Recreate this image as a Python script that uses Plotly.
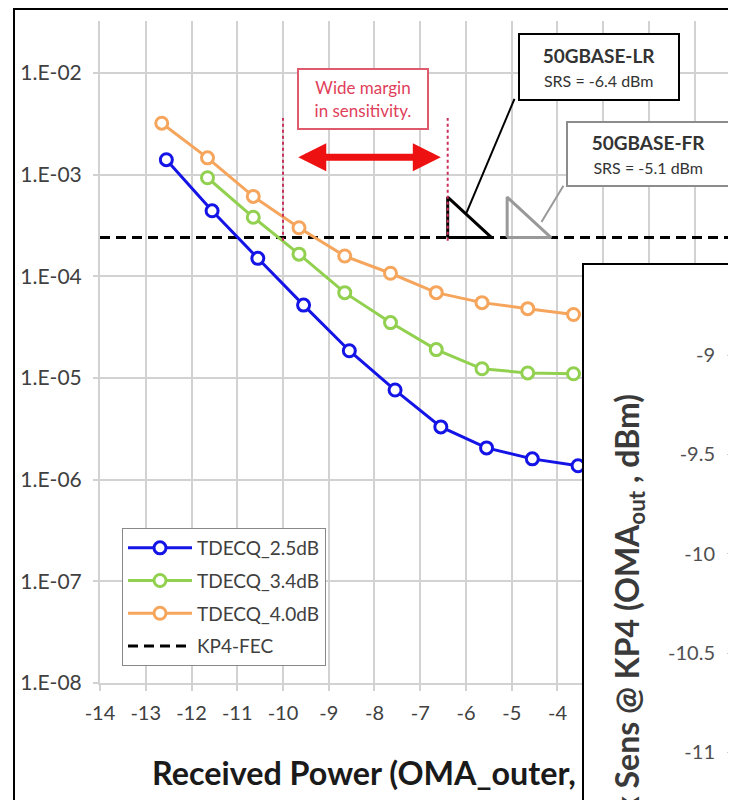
import plotly.graph_objects as go

# ---------------- data ----------------
x_tdecq_25 = [-12.55, -11.55, -10.55, -9.55, -8.55, -7.55, -6.55, -5.55, -4.55, -3.55]
ber_tdecq_25 = [1.4e-3, 4.4e-4, 1.5e-4, 5.2e-5, 1.85e-5, 7.6e-6, 3.3e-6, 2.05e-6, 1.6e-6, 1.37e-6]

x_tdecq_34 = [-11.65, -10.65, -9.65, -8.65, -7.65, -6.65, -5.65, -4.65, -3.65]
ber_tdecq_34 = [9.3e-4, 3.8e-4, 1.65e-4, 6.9e-5, 3.5e-5, 1.9e-5, 1.23e-5, 1.12e-5, 1.1e-5]

x_tdecq_40 = [-12.65, -11.65, -10.65, -9.65, -8.65, -7.65, -6.65, -5.65, -4.65, -3.65]
ber_tdecq_40 = [3.2e-3, 1.46e-3, 6.1e-4, 3.0e-4, 1.58e-4, 1.07e-4, 6.9e-5, 5.5e-5, 4.8e-5, 4.2e-5]

kp4_fec_ber = 2.4e-4
kp4_x_span = [-14, 0.1]

srs_lr = -6.4
srs_fr = -5.1
margin_left = -10.0

x_tickvals = list(range(-14, 1))
x_ticktext = [str(v) for v in x_tickvals]
y_tickvals = [1e-8, 1e-7, 1e-6, 1e-5, 1e-4, 1e-3, 1e-2]
y_ticktext = ["1.E-08", "1.E-07", "1.E-06", "1.E-05", "1.E-04", "1.E-03", "1.E-02"]

y2_tickvals = [-11, -10.5, -10, -9.5, -9]
y2_ticktext = ["-11", "-10.5", "-10", "-9.5", "-9"]

series_names = ["TDECQ_2.5dB", "TDECQ_3.4dB", "TDECQ_4.0dB", "KP4-FEC"]

# ---------------- styling ----------------
W, H = 736, 800
OFF = 8  # page offset of the figure (body margin)


def fx(px):
    return (px - OFF) / W


def fy(py):
    return 1 - (py - OFF) / H


FONT = "Lato"
C_BLUE = "#1414e6"
C_GREEN = "#92d050"
C_ORANGE = "#f5a55c"
GRID = "#d2d2d2"
TRI_W = 0.96          # triangle width (dB)
TRI_H = 2.5           # triangle height factor (BER)
DOT_TOP = 3.6e-3      # top of red dotted markers

fig = go.Figure()


def series(x, y, name, color, rank):
    fig.add_trace(go.Scatter(
        x=x, y=y, name=name, mode="lines+markers", legendgroup=name, legendrank=rank,
        line=dict(color=color, width=3),
        marker=dict(symbol="circle", size=12, color="white",
                    line=dict(color=color, width=3)),
        xaxis="x", yaxis="y"))


fig.add_trace(go.Scatter(
    x=kp4_x_span, y=[kp4_fec_ber, kp4_fec_ber], name=series_names[3],
    mode="lines", legendgroup=series_names[3], legendrank=4,
    line=dict(color="black", width=3, dash="10px,6px")))

series(x_tdecq_25, ber_tdecq_25, series_names[0], C_BLUE, 1)
series(x_tdecq_34, ber_tdecq_34, series_names[1], C_GREEN, 2)
series(x_tdecq_40, ber_tdecq_40, series_names[2], C_ORANGE, 3)

# SRS triangles
for srs, col in [(srs_lr, "black"), (srs_fr, "#999999")]:
    fig.add_trace(go.Scatter(
        x=[srs, srs, srs + TRI_W, srs],
        y=[kp4_fec_ber, kp4_fec_ber * TRI_H, kp4_fec_ber, kp4_fec_ber],
        mode="lines", line=dict(color=col, width=3),
        showlegend=False, hoverinfo="skip"))

# red dotted reference lines
for xv in [margin_left, srs_lr]:
    fig.add_trace(go.Scatter(
        x=[xv, xv], y=[kp4_fec_ber * 0.93, DOT_TOP], mode="lines",
        line=dict(color="#c8305a", width=2, dash="dot"),
        showlegend=False, hoverinfo="skip"))

# callout leader lines
fig.add_trace(go.Scatter(x=[-4.94, -5.99], y=[10 ** -2.256, 10 ** -3.377],
                         mode="lines", line=dict(color="black", width=2),
                         showlegend=False, hoverinfo="skip"))
fig.add_trace(go.Scatter(x=[-3.87, -4.35], y=[10 ** -3.111, 10 ** -3.466],
                         mode="lines", line=dict(color="#999999", width=2),
                         showlegend=False, hoverinfo="skip"))

# overlapping second chart (only its y axis is visible in the crop)
fig.add_trace(go.Scatter(x=[None], y=[None], xaxis="x2", yaxis="y2", showlegend=False))

fig.update_layout(
    width=W, height=H, autosize=False,
    margin=dict(l=0, r=0, t=0, b=0, pad=0, autoexpand=False),
    paper_bgcolor="white", plot_bgcolor="white",
    font=dict(family=FONT, color="#333333"),
    showlegend=True,
    legend=dict(x=fx(122), y=fy(528), xanchor="left", yanchor="top",
                bgcolor="white", bordercolor="#888888", borderwidth=1,
                font=dict(size=19, color="#404040", family=FONT),
                tracegroupgap=5, traceorder="grouped", itemwidth=64),
    xaxis=dict(domain=[fx(100), 1], range=[-14, 0.077], anchor="y", automargin=False,
               tickmode="array", tickvals=x_tickvals, ticktext=x_ticktext,
               showgrid=True, gridcolor=GRID, gridwidth=2,
               showline=True, linecolor=GRID, linewidth=2,
               ticks="outside", ticklen=6, tickcolor=GRID, tickwidth=2,
               zeroline=False, tickfont=dict(size=20, color="#404040"),
               ticklabelstandoff=5),
    yaxis=dict(domain=[fy(683), fy(21)], type="log", range=[-8, -1.49], anchor="x",
               automargin=False,
               tickmode="array", tickvals=y_tickvals, ticktext=y_ticktext,
               showgrid=True, gridcolor=GRID, gridwidth=2,
               showline=True, linecolor=GRID, linewidth=2,
               ticks="outside", ticklen=5, tickcolor=GRID, tickwidth=2,
               zeroline=False, tickfont=dict(size=21, color="#404040"),
               ticklabelstandoff=7),
    xaxis2=dict(domain=[fx(583), 1], range=[0, 1], anchor="y2", visible=False,
                automargin=False),
    yaxis2=dict(domain=[0, fy(264)], range=[-11.28, -8.542], anchor="free",
                position=fx(731), side="left", automargin=False,
                tickmode="array", tickvals=y2_tickvals, ticktext=y2_ticktext,
                showgrid=False, zeroline=False, showline=True,
                linecolor="#c8c8c8", linewidth=1,
                ticks="outside", ticklen=4, tickcolor="#c8c8c8",
                tickfont=dict(size=20, color="#505050"),
                ticklabelstandoff=8),
)

shapes = [
    # outer frame of the main chart
    dict(type="path", xref="paper", yref="paper", layer="below",
         path=f"M {fx(14)},0 L {fx(14)},{fy(9)} L 1,{fy(9)}",
         line=dict(color="black", width=2)),
    # frame of the overlapping second chart
    dict(type="path", xref="paper", yref="paper", layer="above",
         path=f"M {fx(583)},0 L {fx(583)},{fy(264)} L 1,{fy(264)}",
         line=dict(color="black", width=2)),
]
fig.update_layout(shapes=shapes)

annotations = [
    dict(xref="paper", yref="paper", x=fx(150), y=fy(772),
         xanchor="left", yanchor="middle", showarrow=False,
         text="<b>Received Power (OMA_outer,</b>",
         font=dict(size=32.3, color="#1a1a1a", family=FONT)),
    dict(xref="paper", yref="paper", x=fx(628), y=fy(393),
         xanchor="center", yanchor="top", showarrow=False, textangle=-90,
         text="<b>Rx Sens @ KP4 (OMA<sub>out</sub> , dBm)</b>",
         font=dict(size=32, color="#3a3a3a", family=FONT)),
    dict(xref="paper", yref="paper", x=fx(363), y=fy(99),
         xanchor="center", yanchor="middle", showarrow=False,
         text="Wide margin<br>in sensitivity.", align="center",
         font=dict(size=17, color="#e0405a", family=FONT),
         bordercolor="#e05a6e", borderwidth=2, borderpad=3, bgcolor="white",
         width=122, height=52),
    dict(xref="paper", yref="paper", x=fx(599), y=fy(67),
         xanchor="center", yanchor="middle", showarrow=False,
         text="<b>50GBASE-LR</b><br><span style='font-size:16px'>SRS = -6.4 dBm</span>",
         align="center", font=dict(size=19, color="#333333", family=FONT),
         bordercolor="black", borderwidth=2, borderpad=4, bgcolor="white",
         width=150, height=56),
    dict(xref="paper", yref="paper", x=fx(648.5), y=fy(154),
         xanchor="center", yanchor="middle", showarrow=False,
         text="<b>50GBASE-FR</b><br><span style='font-size:16px'>SRS = -5.1 dBm</span>",
         align="center", font=dict(size=19, color="#333333", family=FONT),
         bordercolor="#8c8c8c", borderwidth=2, borderpad=4, bgcolor="white",
         width=153, height=54),
    # red double-headed arrow
    dict(xref="x", yref="y", axref="x", ayref="y",
         x=-6.55, y=-2.83, ax=-9.70, ay=-2.83, text="",
         showarrow=True, arrowside="end+start",
         arrowhead=2, startarrowhead=2, arrowsize=0.8, startarrowsize=0.8,
         arrowwidth=7, arrowcolor="#ee1111", standoff=0, startstandoff=0),
]
fig.update_layout(annotations=annotations)

fig.write_html("out.html")
